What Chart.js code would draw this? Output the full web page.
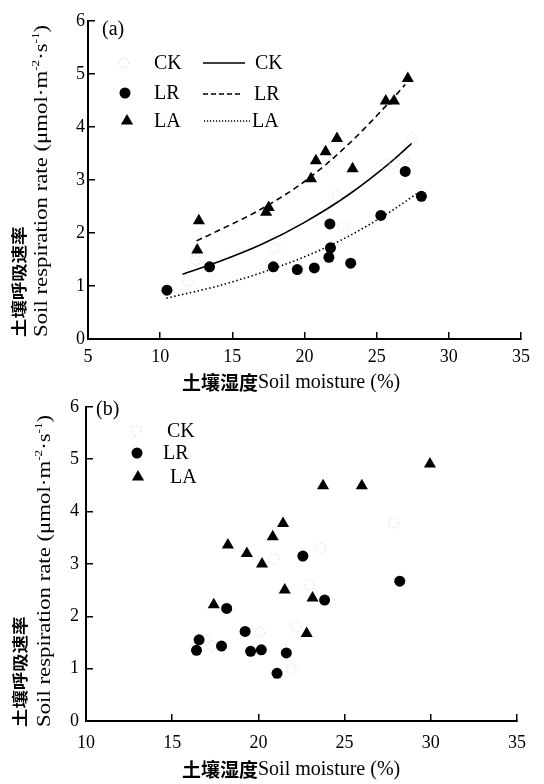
<!DOCTYPE html>
<html>
<head>
<meta charset="utf-8">
<script src="https://cdn.jsdelivr.net/npm/chart.js@4.4.3/dist/chart.umd.min.js"></script>
<style>
  html, body { margin: 0; padding: 0; background: #fff; }
  #wrap { position: relative; width: 544px; height: 784px; }
  canvas { position: absolute; left: 0; }
  #chart-a { top: 0; width: 544px; height: 392px; }
  #chart-b { top: 382px; width: 544px; height: 402px; }
</style>
</head>
<body>
<div id="wrap">
  <canvas id="chart-a" width="544" height="392"></canvas>
  <canvas id="chart-b" width="544" height="402"></canvas>
</div>
<script>
// Panel (a): soil respiration vs soil moisture (first measurement)
const ckMoistA = [11.9, 12.45, 17.97, 22.25, 22.7, 25.63, 26.2, 26.87, 27.43];
const ckRateA  = [1.09, 1.49, 1.72, 2.70, 2.14, 3.28, 3.31, 3.41, 3.78];
const lrMoistA = [10.47, 13.42, 17.84, 19.5, 20.68, 21.69, 21.8, 21.76, 23.2, 25.29, 26.98, 28.1];
const lrRateA  = [0.92, 1.36, 1.36, 1.31, 1.34, 1.54, 1.72, 2.17, 1.43, 2.33, 3.16, 2.69];
const laMoistA = [12.68, 12.57, 17.52, 17.34, 20.45, 20.79, 21.46, 22.25, 23.33, 25.63, 26.2, 27.16];
const laRateA  = [2.23, 1.68, 2.48, 2.39, 3.02, 3.36, 3.53, 3.78, 3.21, 4.49, 4.49, 4.91];

// fitted curves of panel (a)
const fitCkX = [11.55, 14, 17, 20, 23, 26, 27.43];
const fitCkY = [1.22, 1.45, 1.78, 2.20, 2.71, 3.34, 3.69];
const fitLrX = [12.52, 14, 17, 20, 23, 26, 26.98];
const fitLrY = [1.85, 2.04, 2.45, 2.97, 3.66, 4.50, 4.80];
const fitLaX = [10.43, 14, 17, 20, 23, 26, 27.88];
const fitLaY = [0.77, 1.00, 1.25, 1.55, 1.93, 2.41, 2.76];

// Panel (b)
const ckMoistB = [16.98, 17.3, 20.08, 20.9, 21.9, 22.2, 22.96, 23.6, 27.85];
const ckRateB  = [1.55, 1.44, 1.7, 3.1, 1.0, 1.8, 2.59, 3.3, 3.78];
const lrMoistB = [22.58, 28.2, 23.84, 18.16, 19.23, 16.56, 16.41, 17.86, 19.55, 20.17, 21.62, 21.08];
const lrRateB  = [3.15, 2.67, 2.31, 2.15, 1.71, 1.55, 1.35, 1.43, 1.33, 1.36, 1.30, 0.91];
const laMoistB = [21.43, 20.83, 18.23, 19.33, 20.21, 21.53, 23.14, 17.41, 22.8, 29.95, 23.75, 26.0];
const laRateB  = [3.77, 3.52, 3.36, 3.2, 3.0, 2.5, 2.35, 2.22, 1.67, 4.91, 4.49, 4.49];

// ticks
const xTicksA = [5, 10, 15, 20, 25, 30, 35];
const xTicksB = [10, 15, 20, 25, 30, 35];
const yTicks = [0, 1, 2, 3, 4, 5, 6];

const SERIF = '"Liberation Serif", "Times New Roman", serif';
const CJK = '"Noto Sans CJK SC", sans-serif';

function pts(xs, ys) {
  return xs.map((x, i) => ({ x, y: ys[i] }));
}

// faint dashed circle used for CK
function dashedCircle(r) {
  const c = document.createElement('canvas');
  c.width = c.height = r * 2 + 4;
  const g = c.getContext('2d');
  g.strokeStyle = '#c4c4c4';
  g.lineWidth = 1;
  g.setLineDash([1.2, 2.6]);
  g.beginPath();
  g.arc(r + 2, r + 2, r, 0, Math.PI * 2);
  g.stroke();
  return c;
}
const ckMark = dashedCircle(5);

function drawRuns(ctx, runs) {
  let x = 0;
  for (const r of runs) {
    ctx.font = r.font;
    ctx.fillText(r.t, x, r.dy || 0);
    x += ctx.measureText(r.t).width;
  }
}

const unitRuns = [
  { t: 'Soil respiration rate (μmol·m', font: '19px ' + SERIF },
  { t: '-2', font: '11px ' + SERIF, dy: -6 },
  { t: '·s', font: '19px ' + SERIF },
  { t: '-1', font: '11px ' + SERIF, dy: -6 },
  { t: ')', font: '19px ' + SERIF }
];

const panelDecor = {
  id: 'panelDecor',
  afterDraw(chart, args, o) {
    const ctx = chart.ctx;
    ctx.save();
    ctx.fillStyle = '#000';
    ctx.strokeStyle = '#000';
    ctx.textBaseline = 'middle';
    ctx.textAlign = 'left';

    // panel tag
    ctx.font = '20px ' + SERIF;
    ctx.fillText(o.tag[0], o.tag[1], o.tag[2]);

    // marker legend
    o.marks.forEach(m => {
      if (m.kind === 'ck') {
        ctx.drawImage(ckMark, m.x - ckMark.width / 2, m.y - ckMark.height / 2);
      } else if (m.kind === 'lr') {
        ctx.beginPath();
        ctx.arc(m.x, m.y, 5.5, 0, Math.PI * 2);
        ctx.fill();
      } else {
        ctx.beginPath();
        ctx.moveTo(m.x, m.y - 7);
        ctx.lineTo(m.x + 6.1, m.y + 3.5);
        ctx.lineTo(m.x - 6.1, m.y + 3.5);
        ctx.closePath();
        ctx.fill();
      }
      ctx.font = '20px ' + SERIF;
      ctx.fillText(m.label, m.tx, m.y + 1);
    });

    // line legend
    (o.lines || []).forEach(l => {
      ctx.lineWidth = 1.6;
      ctx.setLineDash(l.dash);
      ctx.beginPath();
      ctx.moveTo(l.x1, l.y);
      ctx.lineTo(l.x2, l.y);
      ctx.stroke();
      ctx.setLineDash([]);
      ctx.font = '20px ' + SERIF;
      ctx.fillText(l.label, l.tx, l.y + 1);
    });

    // y title (rotated, two lines, starting from the bottom)
    ctx.save();
    ctx.translate(o.yTitle.cjkX, o.yTitle.y0);
    ctx.rotate(-Math.PI / 2);
    ctx.scale(1.15, 1);
    ctx.font = 'bold 16px ' + CJK;
    ctx.fillText('土壤呼吸速率', 0, 0);
    ctx.restore();

    ctx.save();
    ctx.translate(o.yTitle.enX, o.yTitle.y0);
    ctx.rotate(-Math.PI / 2);
    ctx.scale(1.2, 1);
    drawRuns(ctx, unitRuns);
    ctx.restore();

    // x title
    ctx.save();
    ctx.translate(o.xTitle[0], o.xTitle[1]);
    drawRuns(ctx, [
      { t: '土壤湿度', font: 'bold 19px ' + CJK },
      { t: 'Soil moisture (%)', font: '20px ' + SERIF }
    ]);
    ctx.restore();

    ctx.restore();
  }
};

function linAxis(ticks, pad, fit) {
  return {
    type: 'linear',
    min: ticks[0],
    max: ticks[ticks.length - 1],
    afterBuildTicks: s => { s.ticks = ticks.map(v => ({ value: v })); },
    afterFit: fit,
    grid: { display: true, drawOnChartArea: false, drawTicks: true, tickLength: -7, color: '#000', lineWidth: 1.5 },
    border: { display: true, color: '#000', width: 2 },
    ticks: { color: '#000', padding: pad, font: { family: SERIF, size: 18 } },
    title: { display: false }
  };
}

function pointSets(ck, lr, la) {
  return [
    { label: 'LA', data: la, pointStyle: 'triangle', pointRadius: 7, backgroundColor: '#000', borderColor: '#000', borderWidth: 0 },
    { label: 'LR', data: lr, pointStyle: 'circle', pointRadius: 5.5, backgroundColor: '#000', borderColor: '#000', borderWidth: 0 },
    { label: 'CK', data: ck, pointStyle: ckMark, pointRadius: 5 }
  ];
}

function curveSet(label, data, dash) {
  return {
    label, data, showLine: true, pointRadius: 0, borderColor: '#000', borderWidth: 1.6,
    borderDash: dash, tension: 0.4, cubicInterpolationMode: 'monotone', fill: false
  };
}

function baseOptions(xTicks, yPad, xPad, leftW, bottomH, rightPad, decor) {
  return {
    responsive: false,
    animation: false,
    layout: { padding: { top: 15, right: rightPad, left: 0, bottom: 0 } },
    scales: {
      x: linAxis(xTicks, xPad, s => { s.height = bottomH; }),
      y: linAxis(yTicks, yPad, s => { s.width = leftW; })
    },
    plugins: { legend: { display: false }, tooltip: { enabled: false }, panelDecor: decor }
  };
}

new Chart(document.getElementById('chart-a'), {
  type: 'scatter',
  data: {
    datasets: [
      ...pointSets(pts(ckMoistA, ckRateA), pts(lrMoistA, lrRateA), pts(laMoistA, laRateA)),
      curveSet('CK fit', pts(fitCkX, fitCkY), []),
      curveSet('LR fit', pts(fitLrX, fitLrY), [6, 4]),
      curveSet('LA fit', pts(fitLaX, fitLaY), [1.5, 2.5])
    ]
  },
  options: baseOptions(xTicksA, 10, 14, 88, 53, 12, {
    tag: ['(a)', 102, 30],
    marks: [
      { kind: 'ck', x: 124, y: 63, label: 'CK', tx: 154 },
      { kind: 'lr', x: 125, y: 93, label: 'LR', tx: 154 },
      { kind: 'la', x: 127, y: 121, label: 'LA', tx: 154 }
    ],
    lines: [
      { x1: 203, x2: 245, y: 63, dash: [], label: 'CK', tx: 255 },
      { x1: 203, x2: 243, y: 94, dash: [5, 3], label: 'LR', tx: 254 },
      { x1: 204, x2: 250, y: 121, dash: [1.2, 1.8], label: 'LA', tx: 252 }
    ],
    yTitle: { cjkX: 19, enX: 42, y0: 337 },
    xTitle: [182, 383]
  }),
  plugins: [panelDecor]
});

new Chart(document.getElementById('chart-b'), {
  type: 'scatter',
  data: {
    datasets: pointSets(pts(ckMoistB, ckRateB), pts(lrMoistB, lrRateB), pts(laMoistB, laRateB))
  },
  options: baseOptions(xTicksB, 14, 18, 86, 63, 14, {
    tag: ['(b)', 96, 28],
    marks: [
      { kind: 'ck', x: 136, y: 49, label: 'CK', tx: 167 },
      { kind: 'lr', x: 137, y: 71, label: 'LR', tx: 163 },
      { kind: 'la', x: 138, y: 95, label: 'LA', tx: 170 }
    ],
    yTitle: { cjkX: 20, enX: 45, y0: 345 },
    xTitle: [182, 388]
  }),
  plugins: [panelDecor]
});
</script>
</body>
</html>
